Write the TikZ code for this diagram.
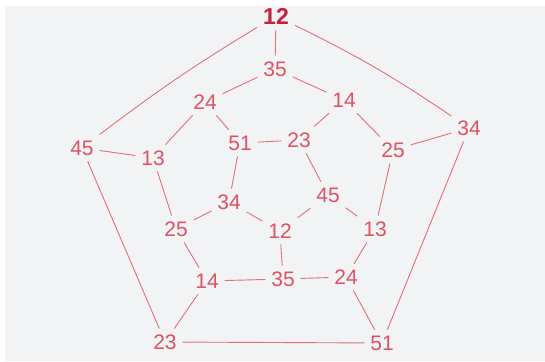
\documentclass[tikz,border=0pt]{standalone}
\usepackage{fontspec}
\setmainfont{Liberation Sans}
\definecolor{paper}{RGB}{242,243,245}
\definecolor{ink}{RGB}{222,82,98}
\definecolor{edgeink}{RGB}{226,112,118}
\definecolor{darkink}{RGB}{200,30,60}
\begin{document}
\begin{tikzpicture}[x=1pt,y=-1pt,
  lbl/.style={text=ink,font=\fontsize{21}{21}\selectfont,inner sep=1pt,outer sep=5pt},
  toplbl/.style={lbl,text=darkink,font=\fontsize{23}{23}\selectfont\bfseries},
  link/.style={draw=edgeink,line width=0.9pt}]
\fill[white] (0,0) rectangle (545,361);
\fill[paper] (5,6) rectangle (545,361);
\useasboundingbox (0,0) rectangle (545,361);
% outer
\node[toplbl] (o12) at (276,16) {12};
\node[lbl] (o34) at (469,128) {34};
\node[lbl] (o51) at (382,343) {51};
\node[lbl] (o23) at (165,342) {23};
\node[lbl] (o45) at (82,148) {45};
% middle
\node[lbl] (m35t) at (275,69) {35};
\node[lbl] (m14t) at (344,100) {14};
\node[lbl] (m25r) at (393,150) {25};
\node[lbl] (m13r) at (375,229) {13};
\node[lbl] (m24b) at (346,277) {24};
\node[lbl] (m35b) at (283,279) {35};
\node[lbl] (m14b) at (207,281) {14};
\node[lbl] (m25l) at (176,229) {25};
\node[lbl] (m13l) at (153,158) {13};
\node[lbl] (m24t) at (205,102) {24};
% inner
\node[lbl] (i51) at (240,143) {51};
\node[lbl] (i23) at (299,140) {23};
\node[lbl] (i45) at (328,195) {45};
\node[lbl] (i12) at (280,231) {12};
\node[lbl] (i34) at (229,202) {34};
% outer ring
\draw[link] (o12) to[bend left=4] (o34);
\draw[link] (o12) to[bend right=3] (o45);
\draw[link] (o45) -- (o23);
\draw[link] (o23) -- (o51);
\draw[link] (o51) -- (o34);
% spokes
\draw[link] (o12) -- (m35t);
\draw[link] (o34) -- (m25r);
\draw[link] (o51) -- (m24b);
\draw[link] (o23) -- (m14b);
\draw[link] (o45) -- (m13l);
% middle ring
\draw[link] (m35t) -- (m14t);
\draw[link] (m14t) -- (m25r);
\draw[link] (m25r) -- (m13r);
\draw[link] (m13r) -- (m24b);
\draw[link] (m24b) -- (m35b);
\draw[link] (m35b) -- (m14b);
\draw[link] (m14b) -- (m25l);
\draw[link] (m25l) -- (m13l);
\draw[link] (m13l) -- (m24t);
\draw[link] (m24t) -- (m35t);
% inner spokes
\draw[link] (m24t) -- (i51);
\draw[link] (m14t) -- (i23);
\draw[link] (m13r) -- (i45);
\draw[link] (m35b) -- (i12);
\draw[link] (m25l) -- (i34);
% inner ring
\draw[link] (i51) -- (i23);
\draw[link] (i23) -- (i45);
\draw[link] (i45) -- (i12);
\draw[link] (i12) -- (i34);
\draw[link] (i34) -- (i51);
\end{tikzpicture}
\end{document}
